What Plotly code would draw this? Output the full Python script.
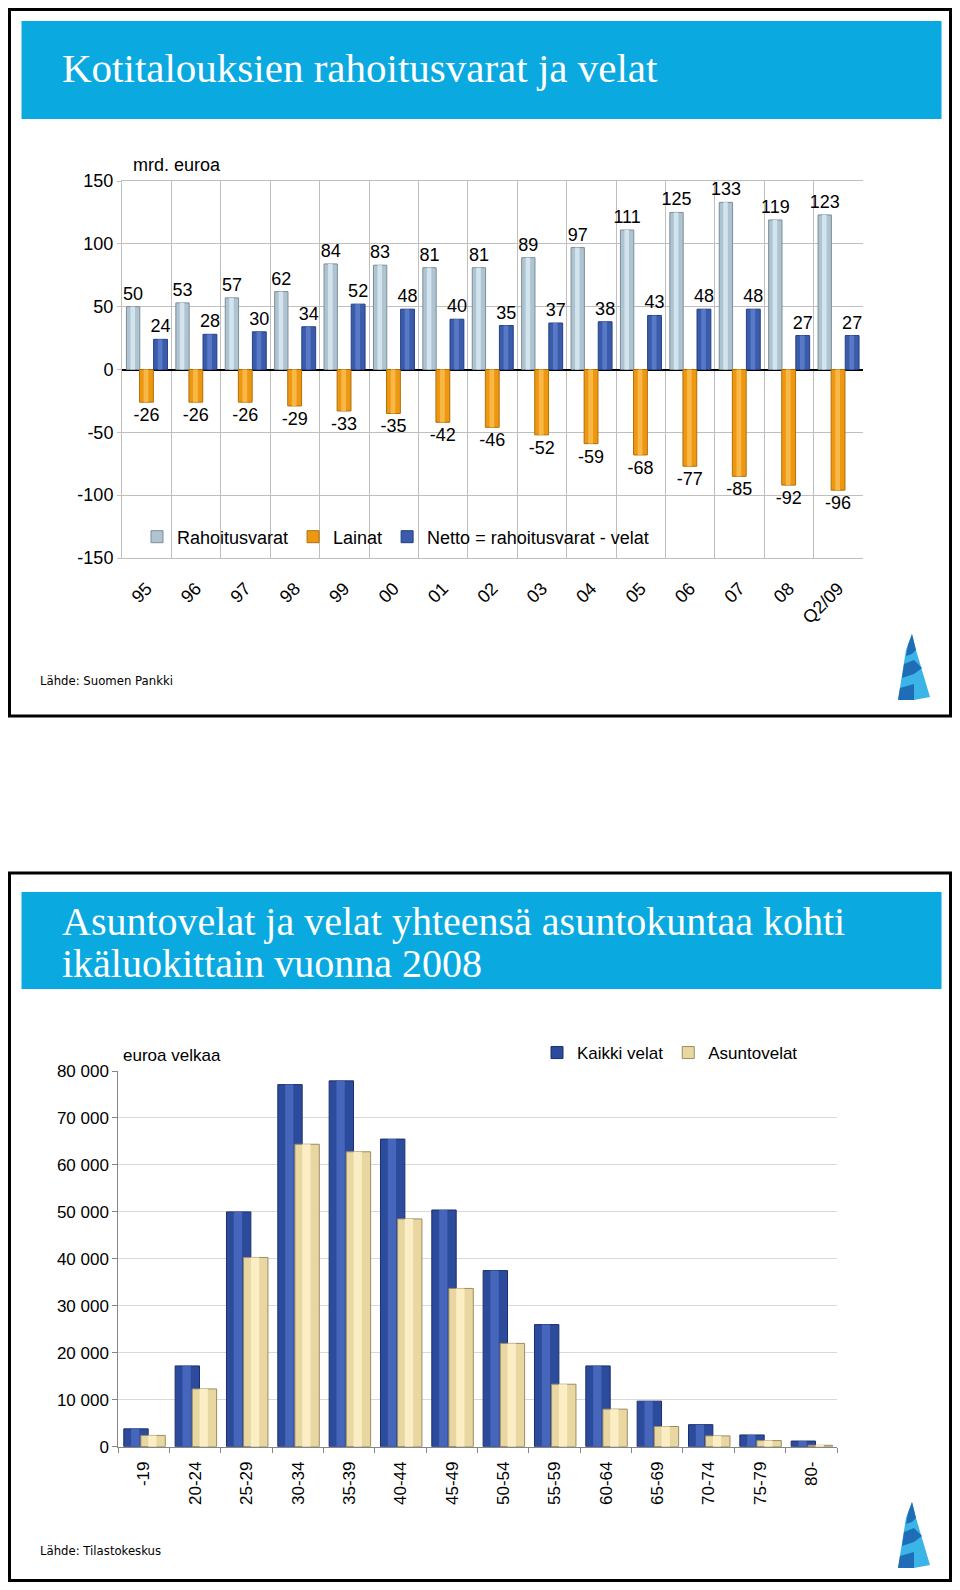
import plotly.graph_objects as go

# ---------------- data: chart 1 ----------------
years = ["95", "96", "97", "98", "99", "00", "01", "02", "03", "04", "05", "06", "07", "08", "Q2/09"]
rahoitusvarat = [50, 53, 57, 62, 84, 83, 81, 81, 89, 97, 111, 125, 133, 119, 123]
lainat = [-26, -26, -26, -29, -33, -35, -42, -46, -52, -59, -68, -77, -85, -92, -96]
netto = [24, 28, 30, 34, 52, 48, 40, 35, 37, 38, 43, 48, 48, 27, 27]
y1_tickvals = [150, 100, 50, 0, -50, -100, -150]
y1_ticktext = ["150", "100", "50", "0", "-50", "-100", "-150"]

# ---------------- data: chart 2 ----------------
ages = ["-19", "20-24", "25-29", "30-34", "35-39", "40-44", "45-49", "50-54",
        "55-59", "60-64", "65-69", "70-74", "75-79", "80-"]
kaikki_velat = [3800, 17200, 50000, 77100, 77900, 65500, 50400, 37500, 26000, 17200, 9700, 4700, 2500, 1200]
asuntovelat = [2400, 12300, 40300, 64400, 62800, 48500, 33700, 22000, 13300, 8000, 4300, 2300, 1300, 300]

# page offset of the plot div (body margin) and figure size
OX, OY = 8, 8
FW, FH = 944, 1574


def px(x):
    return (x - OX) / FW


def py(y):
    return 1 - (y - OY) / FH


SANS = "Liberation Sans, Arial, sans-serif"
SERIF = "Liberation Serif, Times New Roman, serif"
NARROW = "Liberation Sans Narrow, Arial Narrow, DejaVu Sans Condensed, sans-serif"

fig = go.Figure()


def add_series(x, y, name, off, w, mid, edge, light, xa, ya, legend, text=None, tsize=18):
    fig.add_trace(go.Bar(
        x=x, y=y, name=name, width=w, offset=off,
        marker=dict(color=mid, line=dict(color=edge, width=1)),
        text=text, textposition="outside" if text else None,
        textfont=dict(family=SANS, size=tsize, color="black"),
        constraintext="none", cliponaxis=False,
        xaxis=xa, yaxis=ya, legend=legend, hoverinfo="x+y",
    ))
    fig.add_trace(go.Bar(
        x=x, y=y, width=w * 0.34, offset=off + w * 0.3,
        marker=dict(color=light, line=dict(width=0)),
        showlegend=False, xaxis=xa, yaxis=ya, hoverinfo="skip",
    ))


# chart 1 bars
add_series(years, rahoitusvarat, "Rahoitusvarat", -0.41, 0.27, "#AFC4D1", "#7E8C96", "#D2E4EE",
           "x", "y", "legend", [str(v) for v in rahoitusvarat])
add_series(years, lainat, "Lainat", -0.145, 0.28, "#EE9812", "#B06E08", "#F8B848",
           "x", "y", "legend", [str(v) for v in lainat])
add_series(years, netto, "Netto = rahoitusvarat - velat", 0.14, 0.28, "#3A5CAA", "#243F86", "#5879C6",
           "x", "y", "legend", [str(v) for v in netto])

# chart 2 bars
add_series(ages, kaikki_velat, "Kaikki velat", -0.393, 0.475, "#2D4B9C", "#1C2F6C", "#4566BA",
           "x2", "y2", "legend2")
add_series(ages, asuntovelat, "Asuntovelat", -0.06, 0.475, "#E9D7A2", "#9C8B62", "#FBEDC4",
           "x2", "y2", "legend2")

fig.update_layout(
    width=FW, height=FH, margin=dict(l=0, r=0, t=0, b=0, autoexpand=False),
    paper_bgcolor="white", plot_bgcolor="white",
    barmode="overlay", separators=", ",
    font=dict(family=SANS, color="black"),
    xaxis=dict(domain=[px(122), px(863)], anchor="y", type="category", automargin=False,
               tickson="boundaries", showgrid=True, gridcolor="#BFBFBF", gridwidth=1,
               showline=True, linecolor="#BFBFBF", mirror=True, ticks="",
               ticklabelstandoff=12,
               tickangle=-45, tickfont=dict(size=18, family=SANS)),
    yaxis=dict(domain=[py(558), py(181)], anchor="x", range=[-150, 150], automargin=False,
               tickmode="array", tickvals=y1_tickvals, ticktext=y1_ticktext,
               showgrid=True, gridcolor="#BFBFBF", gridwidth=1,
               zeroline=True, zerolinecolor="black", zerolinewidth=2,
               showline=True, linecolor="#BFBFBF", ticks="outside", ticklen=4, tickcolor="#BFBFBF",
               tickfont=dict(size=18, family=SANS)),
    xaxis2=dict(domain=[px(118.3), px(837)], anchor="y2", type="category", automargin=False,
                tickson="boundaries", showgrid=False, showline=True, linecolor="#868686",
                ticks="outside", ticklen=5, tickcolor="#868686", ticklabelstandoff=7,
                tickangle=-90, tickfont=dict(size=17, family=SANS)),
    yaxis2=dict(domain=[py(1446.7), py(1071)], anchor="x2", range=[0, 80000], dtick=10000,
                automargin=False,
                tickformat=",d", showgrid=True, gridcolor="#D9D9D9", gridwidth=1,
                zeroline=False, showline=True, linecolor="#868686",
                ticks="outside", ticklen=5, tickcolor="#868686",
                tickfont=dict(size=17, family=SANS)),
    legend=dict(orientation="h", x=px(137), y=py(537), xanchor="left", yanchor="middle",
                bgcolor="rgba(0,0,0,0)", font=dict(size=18, family=SANS), traceorder="normal"),
    legend2=dict(orientation="h", x=px(537), y=py(1053), xanchor="left", yanchor="middle",
                 bgcolor="rgba(0,0,0,0)", font=dict(size=17, family=SANS), traceorder="normal"),
    showlegend=True,
)

shapes = []
# title bars
shapes.append(dict(type="rect", xref="paper", yref="paper", x0=px(21.5), x1=px(941.5),
                   y0=py(119), y1=py(21), fillcolor="#0AAAE1", line=dict(width=0), layer="below"))
shapes.append(dict(type="rect", xref="paper", yref="paper", x0=px(21.5), x1=px(941.5),
                   y0=py(989), y1=py(892), fillcolor="#0AAAE1", line=dict(width=0), layer="below"))
# white panel behind legend of chart 1 (hides grid lines there)
shapes.append(dict(type="rect", xref="paper", yref="paper", x0=px(150), x1=px(700),
                   y0=py(556.5), y1=py(521), fillcolor="white", line=dict(width=0), layer="between"))
# slide frames
shapes.append(dict(type="rect", xref="paper", yref="paper", x0=px(9.5), x1=px(950.5),
                   y0=py(716), y1=py(9.5), line=dict(color="black", width=3)))
shapes.append(dict(type="rect", xref="paper", yref="paper", x0=px(9.5), x1=px(950.5),
                   y0=py(1580.5), y1=py(873), line=dict(color="black", width=3)))


def logo(dy):
    def P(pts):
        return "M " + " L ".join(f"{px(x):.5f},{py(y + dy):.5f}" for x, y in pts) + " Z"
    out = []
    out.append(dict(type="path", xref="paper", yref="paper",
                    path=P([(912, 634), (916, 650), (930, 697), (914, 700), (898, 700), (906, 650)]),
                    fillcolor="#3BB4E8", line=dict(width=0)))
    out.append(dict(type="path", xref="paper", yref="paper",
                    path=P([(912, 634), (916, 650), (912, 654), (906, 656), (908, 645)]),
                    fillcolor="#1E6DB6", line=dict(width=0)))
    out.append(dict(type="path", xref="paper", yref="paper",
                    path=P([(904, 664), (914, 660), (922, 668), (914, 674), (902, 678)]),
                    fillcolor="#1E6DB6", line=dict(width=0)))
    out.append(dict(type="path", xref="paper", yref="paper",
                    path=P([(900, 688), (914, 684), (914, 700), (898, 700)]),
                    fillcolor="#1E6DB6", line=dict(width=0)))
    return out


shapes += logo(0) + logo(868)
fig.update_layout(shapes=shapes)

ann = []
ann.append(dict(text="Kotitalouksien rahoitusvarat ja velat", x=px(60), y=py(68), xref="paper", yref="paper",
                xanchor="left", yanchor="middle", showarrow=False,
                font=dict(family=SERIF, size=41, color="white")))
ann.append(dict(text="Asuntovelat ja velat yhteensä asuntokuntaa kohti", x=px(60), y=py(921), xref="paper",
                yref="paper", xanchor="left", yanchor="middle", showarrow=False,
                font=dict(family=SERIF, size=40, color="white")))
ann.append(dict(text="ikäluokittain vuonna 2008", x=px(60), y=py(966), xref="paper",
                yref="paper", xanchor="left", yanchor="middle", showarrow=False, height=40, valign="bottom",
                font=dict(family=SERIF, size=40, color="white")))
ann.append(dict(text="mrd. euroa", x=px(131), y=py(165), xref="paper", yref="paper",
                xanchor="left", yanchor="middle", showarrow=False, font=dict(family=SANS, size=18)))
ann.append(dict(text="euroa velkaa", x=px(121), y=py(1055), xref="paper", yref="paper",
                xanchor="left", yanchor="middle", showarrow=False, font=dict(family=SANS, size=17)))
ann.append(dict(text="Lähde: Suomen Pankki", x=px(38), y=py(680), xref="paper", yref="paper",
                xanchor="left", yanchor="middle", showarrow=False, font=dict(family=NARROW, size=13)))
ann.append(dict(text="Lähde: Tilastokeskus", x=px(38), y=py(1550), xref="paper", yref="paper",
                xanchor="left", yanchor="middle", showarrow=False, font=dict(family=NARROW, size=13)))
fig.update_layout(annotations=ann)

fig.write_html("out.html")
